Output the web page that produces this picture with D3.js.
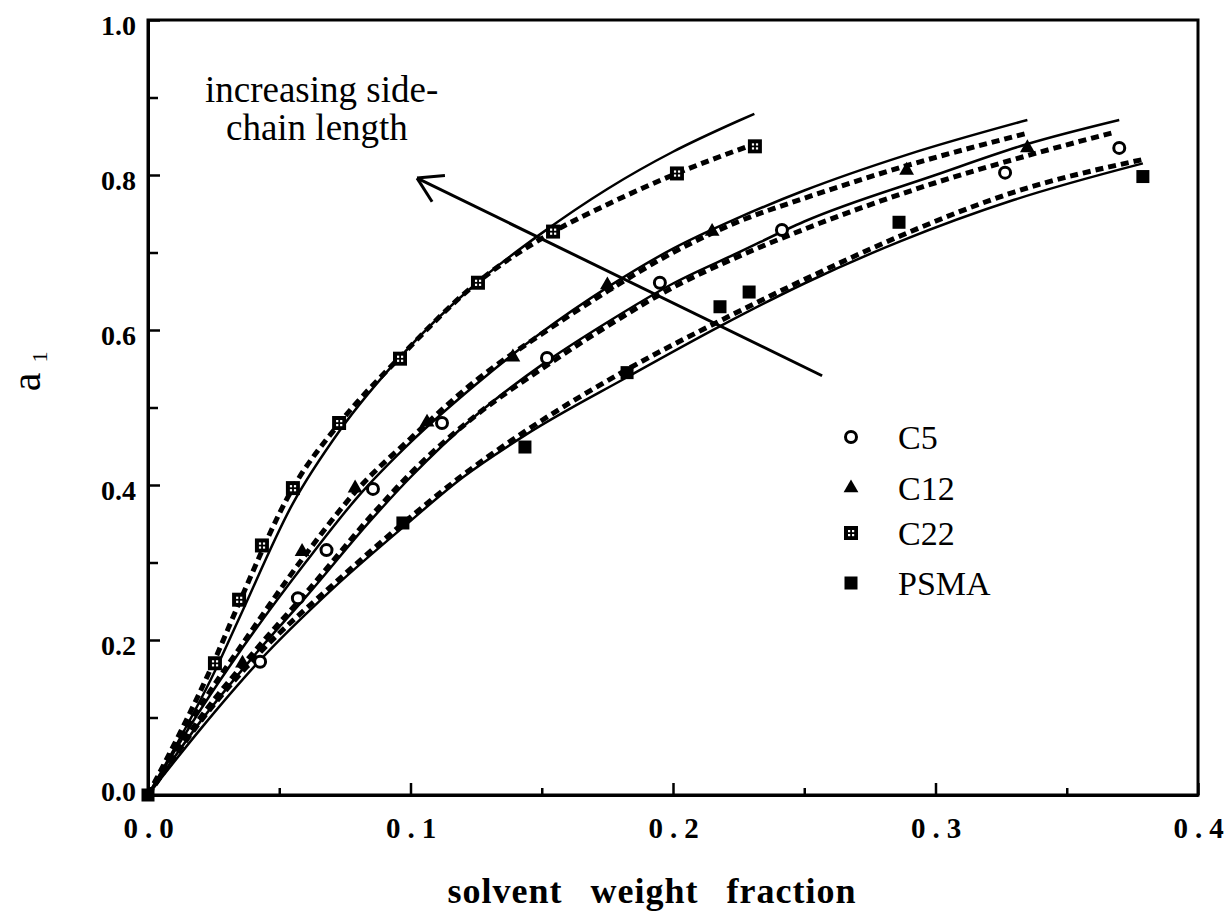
<!DOCTYPE html>
<html>
<head>
<meta charset="utf-8">
<script src="https://cdn.jsdelivr.net/npm/d3@7"></script>
<style>
  body { margin: 0; background: #fff; }
  svg { display: block; }
  text { font-family: "Liberation Serif", "Times New Roman", serif; fill: #000; }
</style>
</head>
<body>
<div id="chart"></div>
<script>
// measured points [solvent weight fraction, a1]
const c5Points = [[0.0427,0.172],[0.0571,0.254],[0.068,0.316],[0.0857,0.395],[0.112,0.480],
    [0.152,0.564],[0.195,0.661],[0.2415,0.729],[0.3265,0.803],[0.370,0.835]];
const c12Points = [[0.036,0.170],[0.0587,0.314],[0.0789,0.396],[0.1063,0.481],[0.139,0.565],
    [0.175,0.658],[0.2149,0.727],[0.289,0.806],[0.335,0.835]];
const c22Points = [[0.0255,0.170],[0.0347,0.252],[0.0434,0.322],[0.0552,0.396],[0.0728,0.480],
    [0.096,0.563],[0.1257,0.661],[0.1543,0.727],[0.2015,0.802],[0.2312,0.837]];
const psmaPoints = [[0,0],[0.0971,0.351],[0.1436,0.449],[0.1825,0.545],[0.2179,0.630],
    [0.229,0.649],[0.2861,0.739],[0.379,0.798]];

// model curves (solid and dashed)
const c5Solid = [[0,0],[0.02,0.095],[0.043,0.19],[0.06,0.255],[0.085,0.355],[0.1,0.41],[0.125,0.49],
    [0.15,0.555],[0.175,0.61],[0.2,0.66],[0.225,0.70],[0.25,0.74],[0.3,0.80],[0.335,0.84],[0.37,0.871]];
const c5Dashed = [[0,0],[0.02,0.1],[0.043,0.195],[0.06,0.26],[0.085,0.36],[0.1,0.415],[0.125,0.49],
    [0.15,0.55],[0.175,0.605],[0.2,0.655],[0.225,0.695],[0.25,0.73],[0.3,0.79],[0.335,0.825],[0.368,0.855]];
const c12Solid = [[0,0],[0.02,0.11],[0.036,0.19],[0.06,0.3],[0.08,0.385],[0.1,0.455],[0.125,0.53],
    [0.15,0.597],[0.175,0.655],[0.2,0.705],[0.225,0.745],[0.25,0.78],[0.289,0.826],[0.335,0.871]];
const c12Dashed = [[0,0],[0.02,0.115],[0.036,0.195],[0.06,0.31],[0.08,0.395],[0.1,0.46],[0.125,0.535],
    [0.15,0.595],[0.175,0.65],[0.2,0.7],[0.225,0.74],[0.25,0.77],[0.289,0.812],[0.335,0.854]];
const c22Solid = [[0,0],[0.0255,0.16],[0.035,0.23],[0.055,0.375],[0.073,0.47],[0.096,0.565],[0.125,0.66],
    [0.15,0.725],[0.175,0.782],[0.2,0.83],[0.225,0.87],[0.231,0.879]];
const c22Dashed = [[0,0],[0.0255,0.175],[0.035,0.25],[0.055,0.395],[0.073,0.48],[0.096,0.565],[0.125,0.66],
    [0.154,0.726],[0.175,0.762],[0.2,0.80],[0.231,0.84]];
const psmaSolid = [[0,0],[0.02,0.085],[0.043,0.175],[0.07,0.265],[0.097,0.345],[0.12,0.41],[0.144,0.465],
    [0.183,0.54],[0.218,0.605],[0.25,0.66],[0.287,0.715],[0.33,0.768],[0.379,0.815]];
const psmaDashed = [[0,0],[0.02,0.095],[0.043,0.185],[0.07,0.27],[0.097,0.35],[0.12,0.413],[0.144,0.47],
    [0.183,0.55],[0.218,0.612],[0.25,0.665],[0.287,0.722],[0.33,0.778],[0.379,0.82]];

const xMajorTicks = [0, 0.1, 0.2, 0.3, 0.4];
const xMinorTicks = [0.05, 0.15, 0.25, 0.35];
const yMajorTicks = [0, 0.2, 0.4, 0.6, 0.8, 1.0];
const yMinorTicks = [0.1, 0.3, 0.5, 0.7, 0.9];
const legendNames = ["C5", "C12", "C22", "PSMA"];
const arrowTail = [0.2568, 0.541];
const arrowTip = [0.1025, 0.796];

const width = 1231, height = 914;
const margin = {top: 20, right: 33, bottom: 119, left: 148};

const svg = d3.select("#chart").append("svg")
    .attr("width", width)
    .attr("height", height);

const x = d3.scaleLinear().domain([0, 0.4]).range([margin.left, width - margin.right]);
const y = d3.scaleLinear().domain([0, 1]).range([height - margin.bottom, margin.top]);

// frame
svg.append("rect")
    .attr("x", x(0)).attr("y", y(1))
    .attr("width", x(0.4) - x(0)).attr("height", y(0) - y(1))
    .attr("fill", "none").attr("stroke", "#000").attr("stroke-width", 3);

// x axis
const xAxis = svg.append("g")
    .attr("transform", `translate(0,${y(0)})`)
    .call(d3.axisBottom(x).tickValues(xMajorTicks).tickFormat(d3.format(".1f"))
        .tickSizeInner(-12).tickSizeOuter(0).tickPadding(22));
xAxis.select(".domain").attr("stroke-width", 3);
xAxis.selectAll(".tick line").attr("stroke-width", 2.5);
xAxis.selectAll("text")
    .attr("font-size", 29).attr("font-weight", "bold")
    .attr("font-family", "Liberation Serif")
    .attr("letter-spacing", 7).attr("dx", 3.5);

svg.append("g")
    .attr("transform", `translate(0,${y(0)})`)
    .call(d3.axisBottom(x).tickValues(xMinorTicks).tickFormat("").tickSizeInner(-7).tickSizeOuter(0))
    .call(g => g.select(".domain").remove())
    .selectAll(".tick line").attr("stroke-width", 2.5);

// y axis
const yAxis = svg.append("g")
    .attr("transform", `translate(${x(0)},0)`)
    .call(d3.axisLeft(y).tickValues(yMajorTicks).tickFormat(d3.format(".1f"))
        .tickSizeInner(-12).tickSizeOuter(0).tickPadding(12));
yAxis.select(".domain").attr("stroke-width", 3);
yAxis.selectAll(".tick line").attr("stroke-width", 2.5);
yAxis.selectAll("text")
    .attr("font-size", 28).attr("font-weight", "bold")
    .attr("font-family", "Liberation Serif")
    .attr("dy", d => d === 0 ? "0.2em" : "0.5em");

svg.append("g")
    .attr("transform", `translate(${x(0)},0)`)
    .call(d3.axisLeft(y).tickValues(yMinorTicks).tickFormat("").tickSizeInner(-10).tickSizeOuter(0))
    .call(g => g.select(".domain").remove())
    .selectAll(".tick line").attr("stroke-width", 2.5);

// axis titles
svg.append("text")
    .attr("x", 652).attr("y", 903)
    .attr("text-anchor", "middle")
    .attr("font-size", 36).attr("font-weight", "bold")
    .attr("letter-spacing", 1).attr("word-spacing", 18)
    .text("solvent weight fraction");

svg.append("text")
    .attr("transform", "translate(40,382) rotate(-90)")
    .attr("text-anchor", "middle")
    .attr("font-size", 42)
    .text("a");
svg.append("text")
    .attr("transform", "translate(47,357) rotate(-90)")
    .attr("text-anchor", "middle")
    .attr("font-size", 22)
    .text("1");

// curves
const line = d3.line()
    .x(d => x(d[0]))
    .y(d => y(d[1]))
    .curve(d3.curveMonotoneX);

const solidCurves = [c5Solid, c12Solid, c22Solid, psmaSolid];
const dashedCurves = [c5Dashed, c12Dashed, c22Dashed, psmaDashed];

svg.append("g").selectAll("path")
    .data(solidCurves)
    .join("path")
    .attr("d", line)
    .attr("fill", "none").attr("stroke", "#000").attr("stroke-width", 2.5);

svg.append("g").selectAll("path")
    .data(dashedCurves)
    .join("path")
    .attr("d", line)
    .attr("fill", "none").attr("stroke", "#000").attr("stroke-width", 5)
    .attr("stroke-dasharray", "8,5");

// arrow
svg.append("line")
    .attr("x1", x(arrowTail[0])).attr("y1", y(arrowTail[1]))
    .attr("x2", x(arrowTip[0])).attr("y2", y(arrowTip[1]))
    .attr("stroke", "#000").attr("stroke-width", 3);
{
    const tx = x(arrowTip[0]), ty = y(arrowTip[1]);
    const ang = Math.atan2(y(arrowTail[1]) - ty, x(arrowTail[0]) - tx);
    const headLen = 28, spread = 0.55;
    [ang - spread, ang + spread].forEach(a => {
        svg.append("line")
            .attr("x1", tx).attr("y1", ty)
            .attr("x2", tx + headLen * Math.cos(a)).attr("y2", ty + headLen * Math.sin(a))
            .attr("stroke", "#000").attr("stroke-width", 3);
    });
}

svg.append("text")
    .attr("x", 205).attr("y", 102)
    .attr("font-size", 37)
    .text("increasing side-");
svg.append("text")
    .attr("x", 226).attr("y", 140)
    .attr("font-size", 37)
    .text("chain length");

// markers
function drawMarker(g, type, cx, cy) {
    if (type === "C5") {
        g.append("circle").attr("cx", cx).attr("cy", cy).attr("r", 5.5)
            .attr("fill", "#fff").attr("stroke", "#000").attr("stroke-width", 3);
    } else if (type === "C12") {
        g.append("path").attr("d", d3.symbol(d3.symbolTriangle, 95)())
            .attr("transform", `translate(${cx},${cy})`).attr("fill", "#000");
    } else if (type === "C22") {
        g.append("rect").attr("x", cx - 7).attr("y", cy - 7).attr("width", 14).attr("height", 14)
            .attr("fill", "#000");
        [[-3, -3], [1, -3], [-3, 1], [1, 1]].forEach(o => {
            g.append("rect").attr("x", cx + o[0]).attr("y", cy + o[1])
                .attr("width", 2.2).attr("height", 2.2).attr("fill", "#fff");
        });
    } else {
        g.append("rect").attr("x", cx - 6.5).attr("y", cy - 6.5).attr("width", 13).attr("height", 13)
            .attr("fill", "#000");
    }
}

const series = [
    {name: "C5", points: c5Points},
    {name: "C12", points: c12Points},
    {name: "C22", points: c22Points},
    {name: "PSMA", points: psmaPoints}
];

const markerG = svg.append("g");
series.forEach(s => {
    s.points.forEach(p => drawMarker(markerG, s.name, x(p[0]), y(p[1])));
});

// legend
const legendY = [437, 488, 533, 583];
const legendG = svg.append("g");
legendNames.forEach((n, i) => {
    drawMarker(legendG, n, 851, legendY[i]);
    legendG.append("text")
        .attr("x", 898).attr("y", legendY[i] + 12)
        .attr("font-size", 34)
        .text(n);
});
</script>
</body>
</html>
